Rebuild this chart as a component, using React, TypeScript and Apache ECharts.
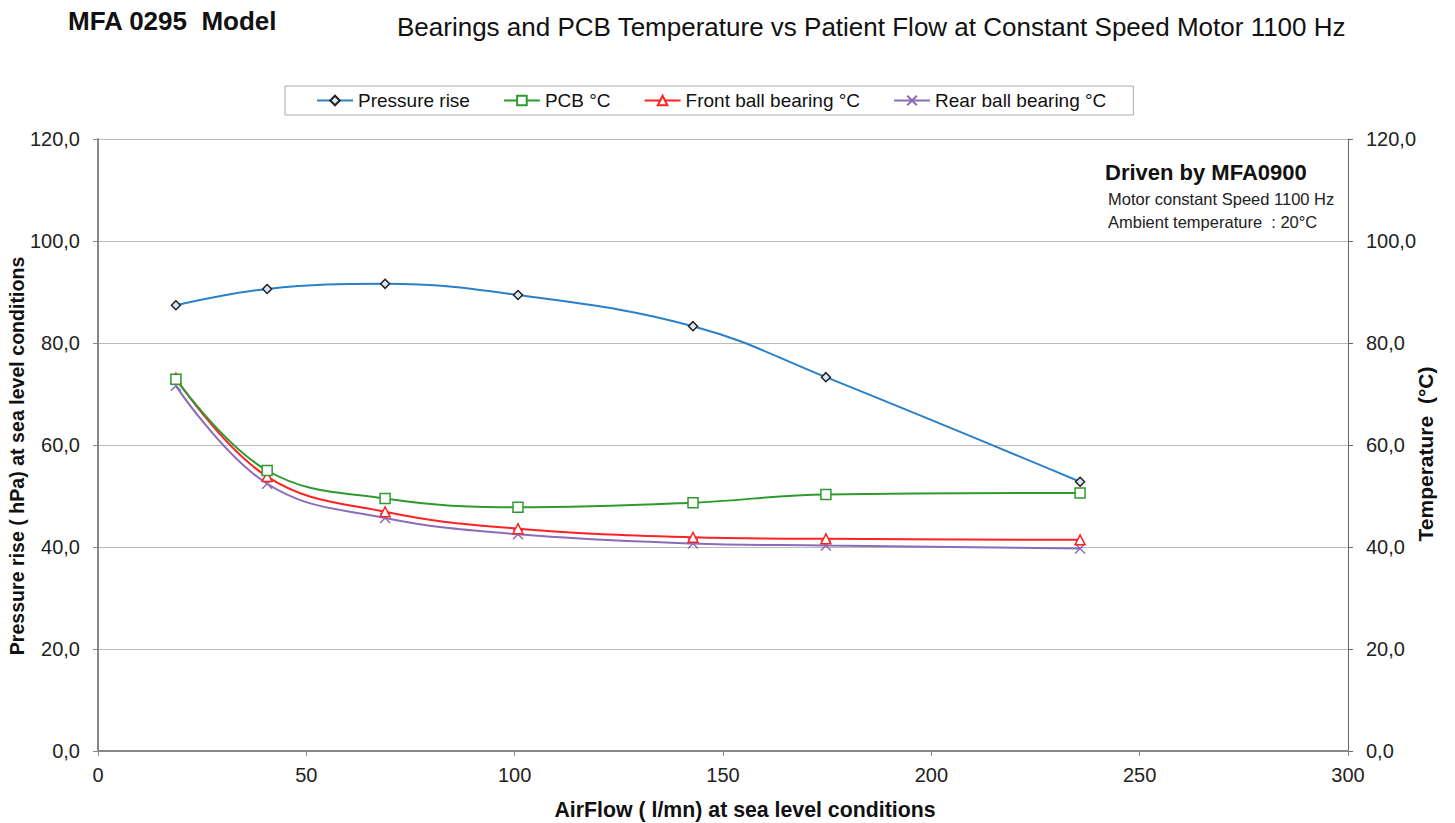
import React, { useEffect, useRef } from "react";
import * as echarts from "echarts";

const airflow = [18.7, 40.6, 68.9, 100.8, 142.8, 174.7, 235.7];
const pressureRise = [87.4, 90.6, 91.6, 89.4, 83.3, 73.3, 52.8];
const pcbTemp = [72.9, 55.0, 49.5, 47.8, 48.7, 50.3, 50.6];
const frontBearing = [73.1, 53.8, 46.9, 43.6, 41.9, 41.6, 41.4];
const rearBearing = [71.6, 52.4, 45.7, 42.5, 40.7, 40.3, 39.7];
const xTicks = { min: 0, max: 300, interval: 50 };
const yTicks = { min: 0, max: 120, interval: 20 };

const FONT = "'Liberation Sans', Arial, sans-serif";

const pairs = (ys: number[]) => airflow.map((x, i) => [x, ys[i]]);

export default function App() {
  const ref = useRef<HTMLDivElement>(null);
  useEffect(() => {
    if (!ref.current) return;
    const chart = echarts.init(ref.current, undefined, { renderer: "svg" });
    const fmt = (v: number) => v.toFixed(1).replace(".", ",");
    const axisLabel = { color: "#222", fontSize: 20, fontFamily: FONT };
    const nameText = (text: string, x: number, y: number, size: number, rotate: boolean) => ({
      type: "text",
      x,
      y,
      rotation: rotate ? Math.PI / 2 : 0,
      style: {
        text,
        fontSize: size,
        fontWeight: "bold",
        fill: "#111",
        fontFamily: FONT,
        align: "center",
        verticalAlign: "middle",
      },
    });
    const common = {
      type: "line" as const,
      smooth: 0.4,
      showSymbol: true,
      symbolSize: 8,
    };
    chart.setOption({
      animation: false,
      backgroundColor: "#fff",
      textStyle: { fontFamily: FONT },
      title: [
        {
          text: "MFA 0295  Model",
          left: 63,
          top: 3,
          textStyle: { fontSize: 26, fontWeight: "bold", color: "#111", fontFamily: FONT },
        },
        {
          text: "Bearings and PCB Temperature vs Patient Flow at Constant Speed Motor 1100 Hz",
          left: 392,
          top: 9,
          textStyle: { fontSize: 26, fontWeight: "normal", color: "#111", fontFamily: FONT },
        },
      ],
      legend: {
        left: 285,
        top: 86,
        padding: [5, 27, 5, 31],
        borderColor: "#aaa",
        borderWidth: 1,
        itemGap: 33,
        itemWidth: 36,
        itemHeight: 12,
        textStyle: { fontSize: 19, color: "#111", fontFamily: FONT },
      },
      grid: {
        left: 98,
        right: 107,
        top: 139,
        bottom: 72,
        containLabel: false,
        outerBoundsMode: "none",
      },
      xAxis: {
        type: "value",
        ...xTicks,
        axisLine: { show: true, lineStyle: { color: "#888", width: 2 } },
        axisTick: { show: true, length: 5, lineStyle: { color: "#888" } },
        axisLabel: { ...axisLabel, margin: 14 },
        splitLine: { show: false },
      },
      yAxis: [
        {
          type: "value",
          ...yTicks,
          position: "left",
          axisLine: { show: true, lineStyle: { color: "#888", width: 2 } },
          axisTick: { show: true, length: 5, lineStyle: { color: "#888" } },
          axisLabel: { ...axisLabel, margin: 18, formatter: fmt },
          splitLine: { show: true, lineStyle: { color: "#bbb", width: 1 } },
        },
        {
          type: "value",
          ...yTicks,
          position: "right",
          axisLine: { show: true, lineStyle: { color: "#666", width: 1 } },
          axisTick: { show: true, length: 5, lineStyle: { color: "#666" } },
          axisLabel: { ...axisLabel, margin: 18, formatter: fmt },
          splitLine: { show: false },
        },
      ],
      series: [
        {
          ...common,
          name: "Pressure rise",
          yAxisIndex: 0,
          symbol: "diamond",
          symbolSize: 9,
          data: pairs(pressureRise),
          lineStyle: { color: "#2a7fc9", width: 2 },
          itemStyle: { color: "#d8e8f6", borderColor: "#222", borderWidth: 1.5 },
          z: 5,
        },
        {
          ...common,
          name: "PCB °C",
          yAxisIndex: 1,
          symbol: "rect",
          symbolSize: 10,
          data: pairs(pcbTemp),
          lineStyle: { color: "#2e9a2e", width: 2 },
          itemStyle: { color: "#ffffff", borderColor: "#2e9a2e", borderWidth: 1.5 },
          z: 4,
        },
        {
          ...common,
          name: "Front ball bearing °C",
          yAxisIndex: 1,
          symbol: "triangle",
          symbolSize: 10,
          data: pairs(frontBearing),
          lineStyle: { color: "#ff2222", width: 2 },
          itemStyle: { color: "#ffffff", borderColor: "#ff2222", borderWidth: 1.5 },
          z: 3,
        },
        {
          ...common,
          name: "Rear ball bearing °C",
          yAxisIndex: 1,
          symbol: "path://M0,0L10,10M10,0L0,10",
          symbolSize: 10,
          data: pairs(rearBearing),
          lineStyle: { color: "#8c6bb8", width: 2 },
          itemStyle: { color: "rgba(0,0,0,0)", borderColor: "#8c6bb8", borderWidth: 1.5 },
          z: 2,
        },
      ],
      graphic: [
        nameText("Pressure rise ( hPa) at sea level conditions", 17, 456, 19.6, true),
        nameText("Temperature  (°C)", 1425, 454, 21, true),
        nameText("AirFlow ( l/mn) at sea level conditions", 745, 810, 21.3, false),
        {
          type: "text",
          left: 1105,
          top: 161,
          style: { text: "Driven by MFA0900", fontSize: 22, fontWeight: "bold", fill: "#111", fontFamily: FONT },
        },
        {
          type: "text",
          left: 1108,
          top: 190,
          style: { text: "Motor constant Speed 1100 Hz", fontSize: 16.5, fill: "#222", fontFamily: FONT },
        },
        {
          type: "text",
          left: 1108,
          top: 213,
          style: { text: "Ambient temperature  : 20°C", fontSize: 16.5, fill: "#222", fontFamily: FONT },
        },
      ],
    });
    return () => chart.dispose();
  }, []);
  return (
    <div
      ref={ref}
      style={{ position: "fixed", left: 0, top: 0, width: 1455, height: 823, background: "#fff" }}
    />
  );
}
